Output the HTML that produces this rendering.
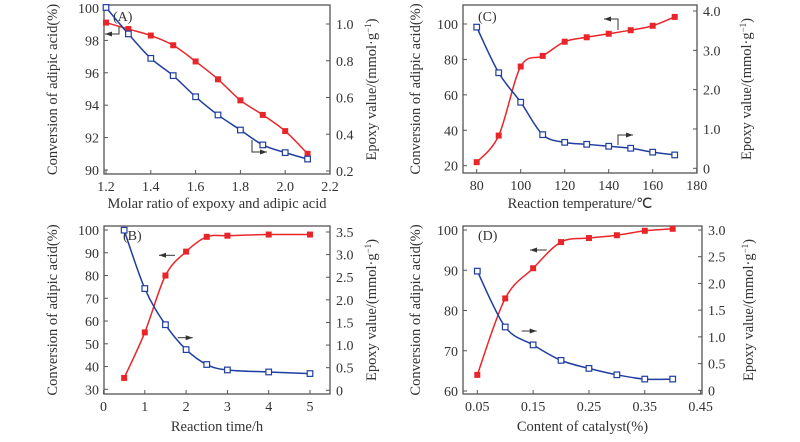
<!DOCTYPE html>
<html><head><meta charset="utf-8"><style>
html,body{margin:0;padding:0;background:#fff;}
svg{display:block;font-family:"Liberation Serif",serif;}
</style></head><body>
<svg id="chart" width="800" height="442" viewBox="0 0 800 442"></svg>
<script>
// Panel A
const aX=[1.2,1.3,1.4,1.5,1.6,1.7,1.8,1.9,2.0,2.1];
const aConv=[99.1,98.7,98.3,97.7,96.7,95.6,94.3,93.4,92.4,91.0];
const aEpoxy=[1.09,0.946,0.813,0.719,0.604,0.505,0.423,0.342,0.30,0.265];
const aXTicks=[1.2,1.4,1.6,1.8,2.0,2.2];
const aLTicks=[90,92,94,96,98,100];
const aRTicks=[0.2,0.4,0.6,0.8,1.0];
const aXLabels=["1.2","1.4","1.6","1.8","2.0","2.2"];
const aRLabels=["0.2","0.4","0.6","0.8","1.0"];
// Panel B
const bX=[0.5,1,1.5,2,2.5,3,4,5];
const bConv=[35,55,80,90.5,97,97.5,98,98];
const bEpoxy=[3.54,2.25,1.45,0.90,0.57,0.45,0.405,0.37];
const bXTicks=[0,1,2,3,4,5];
const bLTicks=[30,40,50,60,70,80,90,100];
const bRTicks=[0,0.5,1,1.5,2,2.5,3,3.5];
const bXLabels=["0","1","2","3","4","5"];
const bRLabels=["0","0.5","1.0","1.5","2.0","2.5","3.0","3.5"];
// Panel C
const cX=[80,90,100,110,120,130,140,150,160,170];
const cConv=[22,37,76,82,90,92.5,94.5,96.5,99,104];
const cEpoxy=[3.59,2.43,1.68,0.855,0.66,0.61,0.56,0.51,0.41,0.34];
const cXTicks=[80,100,120,140,160,180];
const cLTicks=[20,40,60,80,100];
const cRTicks=[0,1,2,3,4];
const cXLabels=["80","100","120","140","160","180"];
const cRLabels=["0","1.0","2.0","3.0","4.0"];
// Panel D
const dX=[0.05,0.1,0.15,0.2,0.25,0.3,0.35,0.4];
const dConv=[64,83,90.5,97,98,98.7,99.8,100.3];
const dEpoxy=[2.23,1.185,0.85,0.56,0.41,0.29,0.21,0.21];
const dXTicks=[0.05,0.15,0.25,0.35,0.45];
const dLTicks=[60,70,80,90,100];
const dRTicks=[0,0.5,1,1.5,2,2.5,3];
const dXLabels=["0.05","0.15","0.25","0.35","0.45"];
const dRLabels=["0","0.5","1.0","1.5","2.0","2.5","3.0"];

const NS="http://www.w3.org/2000/svg";
const svg=document.getElementById('chart');
function mk(tag,attrs,parent,text){const e=document.createElementNS(NS,tag);for(const k in attrs)e.setAttribute(k,attrs[k]);if(text!==undefined)e.textContent=text;(parent||svg).appendChild(e);return e;}
function lin(d0,d1,r0,r1){return v=>r0+(v-d0)*(r1-r0)/(d1-d0);}
function smooth(pts){let d=`M${pts[0][0]},${pts[0][1]}`;for(let i=0;i<pts.length-1;i++){const p0=pts[Math.max(i-1,0)],p1=pts[i],p2=pts[i+1],p3=pts[Math.min(i+2,pts.length-1)];const c1x=p1[0]+(p2[0]-p0[0])/6,c1y=p1[1]+(p2[1]-p0[1])/6,c2x=p2[0]-(p3[0]-p1[0])/6,c2y=p2[1]-(p3[1]-p1[1])/6;d+=` C${c1x},${c1y} ${c2x},${c2y} ${p2[0]},${p2[1]}`;}return d;}

const TF=14, AF=14.5;
function panel(o){
  const g=mk('g',{});
  
  
  const {L,R,T,B}=o;
  const sx=lin(o.xd[0],o.xd[1],o.xr[0],o.xr[1]);
  const sl=lin(o.ld[0],o.ld[1],o.lr[0],o.lr[1]);
  const sr=lin(o.rd[0],o.rd[1],o.rr[0],o.rr[1]);
  const fr=mk('rect',{x:L,y:T,width:R-L,height:B-T,fill:'none',stroke:'#555','stroke-width':1.3},g);
  
  o.xt.forEach((v,i)=>{const x=sx(v);mk('line',{x1:x,y1:B,x2:x,y2:B-4,stroke:'#555'},g);
    const t=mk('text',{x:x,y:B+17,'font-size':TF,'text-anchor':'middle',fill:'#333'},g,o.xl[i]);
    });
  o.lt.forEach(v=>{const y=sl(v);mk('line',{x1:L,y1:y,x2:L+4,y2:y,stroke:'#555'},g);
    const t=mk('text',{x:L-5,y:y+5,'font-size':TF,'text-anchor':'end',fill:'#333'},g,String(v));
    });
  o.rt.forEach((v,i)=>{const y=sr(v);mk('line',{x1:R,y1:y,x2:R-4,y2:y,stroke:'#555'},g);
    const t=mk('text',{x:R+6,y:y+5,'font-size':TF,'text-anchor':'start',fill:'#333'},g,o.rl[i]);
    });
  const xt=mk('text',{x:(L+R)/2,y:o.xty,'font-size':AF,'text-anchor':'middle',fill:'#333'},g,o.xtitle);
  
  const cy=(T+B)/2;
  const lt=mk('text',{x:0,y:0,'font-size':AF,'text-anchor':'middle',fill:'#333',transform:`translate(${o.ltx},${cy}) rotate(-90)`},g,'Conversion of adipic acid(%)');
  
  const rt=mk('text',{x:0,y:0,'font-size':AF,'text-anchor':'middle',fill:'#333',transform:`translate(${o.rtx},${cy}) rotate(-90)`},g);
  
  rt.appendChild(document.createTextNode('Epoxy value/(mmol·g'));
  mk('tspan',{'font-size':9,dy:-5},rt,'−1');
  mk('tspan',{dy:5},rt,')');
  const pt=mk('text',{x:o.lab[0],y:o.lab[1],'font-size':14,fill:'#333'},g,'('+o.id.toUpperCase()+')');
  
  const rp=o.x.map((v,i)=>[sx(v),sl(o.conv[i])]);
  const bp=o.x.map((v,i)=>[sx(v),sr(o.ep[i])]);
  const rl=mk('path',{d:smooth(rp),fill:'none',stroke:'#e8262a','stroke-width':1.5},g);
  
  const bl=mk('path',{d:smooth(bp),fill:'none',stroke:'#1f3ea0','stroke-width':1.5},g);
  
  rp.forEach(p=>{const m=mk('rect',{x:p[0]-3,y:p[1]-3,width:6,height:6,fill:'#e8262a'},g);
    });
  bp.forEach(p=>{const m=mk('rect',{x:p[0]-2.8,y:p[1]-2.8,width:5.6,height:5.6,fill:'#fff',stroke:'#1f3ea0','stroke-width':1.2},g);
    });
  o.arrows.forEach(a=>{const ag=mk('g',{},g);
    
    mk('polyline',{points:a.pts.map(p=>p.join(',')).join(' '),fill:'none',stroke:'#333','stroke-width':1},ag);
    const n=a.pts.length,e=a.pts[n-1],s=a.pts[n-2];const dir=Math.sign(e[0]-s[0]);
    mk('polygon',{points:`${e[0]},${e[1]} ${e[0]-dir*7},${e[1]-2.5} ${e[0]-dir*7},${e[1]+2.5}`,fill:'#333'},ag);});
}
panel({id:'a',L:104,R:330,T:5,B:174,xd:[1.2,2.2],xr:[106,330],ld:[90,100],lr:[170,8],rd:[0.2,1.0],rr:[171,24],
  x:aX,conv:aConv,ep:aEpoxy,xt:aXTicks,xl:aXLabels,lt:aLTicks,rt:aRTicks,rl:aRLabels,xty:208,xtitle:'Molar ratio of expoxy and adipic acid',
  ltx:57,rtx:376,lab:[113,21],arrows:[{pts:[[119,27],[119,34],[105,34]]},{pts:[[252,140],[252,152],[267,152]]}]});
panel({id:'b',L:104,R:330,T:226,B:394,xd:[0,5],xr:[103.5,310],ld:[30,100],lr:[389.3,230],rd:[0,3.5],rr:[390.3,232],
  x:bX,conv:bConv,ep:bEpoxy,xt:bXTicks,xl:bXLabels,lt:bLTicks,rt:bRTicks,rl:bRLabels,xty:431,xtitle:'Reaction time/h',
  ltx:57,rtx:376,lab:[123,240],arrows:[{pts:[[175,255.3],[159,255.3]]},{pts:[[177.7,337.7],[192.7,337.7]]}]});
panel({id:'c',L:463,R:697,T:5,B:173,xd:[80,180],xr:[476.7,696.7],ld:[20,100],lr:[165.7,24],rd:[0,4],rr:[168.3,11],
  x:cX,conv:cConv,ep:cEpoxy,xt:cXTicks,xl:cXLabels,lt:cLTicks,rt:cRTicks,rl:cRLabels,xty:208,xtitle:'Reaction temperature/℃',
  ltx:420,rtx:751,lab:[478,21],arrows:[{pts:[[618,30],[618,19],[604,19]]},{pts:[[618,145],[618,135],[633,135]]}]});
panel({id:'d',L:463,R:702,T:226,B:394,xd:[0.05,0.45],xr:[477.3,700.6],ld:[60,100],lr:[391,230],rd:[0,3],rr:[390.3,230],
  x:dX,conv:dConv,ep:dEpoxy,xt:dXTicks,xl:dXLabels,lt:dLTicks,rt:dRTicks,rl:dRLabels,xty:431,xtitle:'Content of catalyst(%)',
  ltx:420,rtx:753,lab:[478,240],arrows:[{pts:[[546.7,250],[530,250]]},{pts:[[521.7,331],[536.7,331]]}]});
</script>
</body></html>
